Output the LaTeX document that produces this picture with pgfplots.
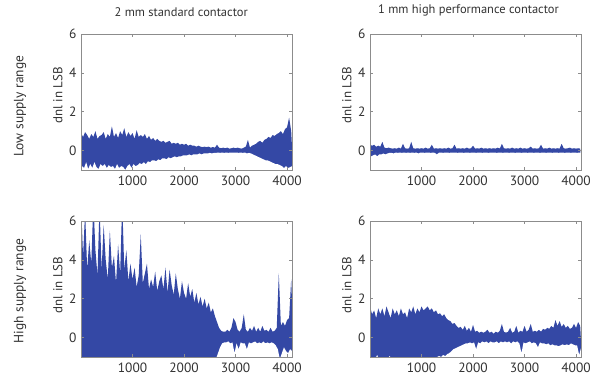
\documentclass[border=0pt]{standalone}
\usepackage{pgfplots}
\pgfplotsset{compat=1.18}
\usepackage{pgfplotstable}
\usepackage{fontspec}
\setmainfont{PT Sans}
\definecolor{dnlblue}{RGB}{52,72,165}
\definecolor{axgray}{RGB}{140,140,140}
\definecolor{txtgray}{RGB}{50,50,50}

% each row: peak value (code 40*i) and trough value (code 40*i+20)
\pgfplotstableread[header=false,row sep=\\]{
0.9 -0.8\\ 0.7 -0.9\\ 0.95 -0.6\\ 0.8 -0.95\\ 0.6 -0.7\\
0.85 -0.9\\ 0.7 -0.6\\ 1.0 -0.85\\ 0.6 -0.95\\ 0.75 -0.7\\
0.8 -0.8\\ 0.95 -0.7\\ 0.6 -0.9\\ 0.85 -0.75\\ 0.7 -0.85\\
1.25 -0.8\\ 0.7 -0.95\\ 0.9 -0.7\\ 0.65 -0.9\\ 1.0 -0.8\\
0.8 -0.85\\ 1.15 -1.0\\ 0.7 -0.8\\ 0.95 -0.7\\ 0.75 -0.9\\
0.9 -0.7\\ 0.6 -0.8\\ 1.05 -0.75\\ 0.7 -0.65\\ 0.8 -0.7\\
0.7 -0.6\\ 0.85 -0.7\\ 0.6 -0.55\\ 0.75 -0.6\\ 0.55 -0.5\\
0.65 -0.5\\ 0.5 -0.55\\ 0.6 -0.45\\ 0.5 -0.5\\ 0.45 -0.4\\
0.5 -0.4\\ 0.4 -0.45\\ 0.45 -0.35\\ 0.5 -0.4\\ 0.35 -0.35\\
0.4 -0.3\\ 0.35 -0.35\\ 0.4 -0.3\\ 0.3 -0.3\\ 0.35 -0.25\\
0.3 -0.25\\ 0.35 -0.25\\ 0.25 -0.2\\ 0.3 -0.25\\ 0.25 -0.2\\
0.25 -0.2\\ 0.2 -0.2\\ 0.25 -0.15\\ 0.2 -0.2\\ 0.18 -0.15\\
0.2 -0.15\\ 0.18 -0.15\\ 0.2 -0.12\\ 0.15 -0.15\\ 0.18 -0.12\\
0.15 -0.12\\ 0.3 -0.1\\ 0.15 -0.12\\ 0.12 -0.1\\ 0.15 -0.12\\
0.12 -0.1\\ 0.15 -0.12\\ 0.1 -0.1\\ 0.12 -0.1\\ 0.15 -0.1\\
0.12 -0.1\\ 0.15 -0.12\\ 0.12 -0.1\\ 0.1 -0.12\\ 0.15 -0.1\\
0.2 -0.15\\ 0.55 -0.12\\ 0.15 -0.15\\ 0.25 -0.2\\ 0.3 -0.25\\
0.35 -0.3\\ 0.45 -0.35\\ 0.5 -0.4\\ 0.4 -0.45\\ 0.55 -0.5\\
0.6 -0.5\\ 0.7 -0.55\\ 0.65 -0.6\\ 0.8 -0.65\\ 0.75 -0.7\\
0.85 -0.7\\ 0.9 -0.75\\ 1.0 -0.8\\ 0.85 -0.9\\ 1.1 -0.8\\
1.2 -0.9\\ 1.7 -0.85\\ 1.0 -0.8\\
}\dataTL

\pgfplotstableread[header=false,row sep=\\]{
0.3 -0.3\\ 0.25 -0.25\\ 0.3 -0.2\\ 0.2 -0.3\\ 0.25 -0.2\\
0.2 -0.2\\ 0.45 -0.15\\ 0.15 -0.2\\ 0.12 -0.15\\ 0.15 -0.12\\
0.12 -0.12\\ 0.1 -0.15\\ 0.12 -0.1\\ 0.1 -0.12\\ 0.15 -0.1\\
0.1 -0.12\\ 0.35 -0.1\\ 0.12 -0.12\\ 0.1 -0.1\\ 0.12 -0.12\\
0.45 -0.1\\ 0.12 -0.12\\ 0.1 -0.1\\ 0.12 -0.15\\ 0.1 -0.1\\
0.12 -0.1\\ 0.1 -0.12\\ 0.15 -0.1\\ 0.1 -0.1\\ 0.12 -0.12\\
0.3 -0.1\\ 0.1 -0.12\\ 0.12 -0.2\\ 0.1 -0.1\\ 0.12 -0.1\\
0.1 -0.12\\ 0.12 -0.1\\ 0.1 -0.1\\ 0.15 -0.12\\ 0.1 -0.1\\
0.12 -0.1\\ 0.3 -0.1\\ 0.1 -0.12\\ 0.12 -0.1\\ 0.1 -0.1\\
0.12 -0.12\\ 0.1 -0.1\\ 0.15 -0.1\\ 0.1 -0.12\\ 0.12 -0.1\\
0.25 -0.1\\ 0.1 -0.12\\ 0.12 -0.1\\ 0.1 -0.1\\ 0.15 -0.12\\
0.1 -0.1\\ 0.12 -0.1\\ 0.1 -0.12\\ 0.12 -0.1\\ 0.1 -0.1\\
0.12 -0.1\\ 0.1 -0.12\\ 0.15 -0.1\\ 0.1 -0.1\\ 0.35 -0.12\\
0.12 -0.1\\ 0.1 -0.1\\ 0.12 -0.12\\ 0.1 -0.1\\ 0.15 -0.1\\
0.1 -0.12\\ 0.12 -0.1\\ 0.1 -0.1\\ 0.15 -0.12\\ 0.1 -0.1\\
0.12 -0.1\\ 0.1 -0.12\\ 0.12 -0.1\\ 0.2 -0.1\\ 0.1 -0.12\\
0.12 -0.1\\ 0.1 -0.1\\ 0.12 -0.12\\ 0.3 -0.1\\ 0.1 -0.1\\
0.12 -0.12\\ 0.1 -0.1\\ 0.15 -0.1\\ 0.1 -0.12\\ 0.12 -0.1\\
0.1 -0.1\\ 0.12 -0.12\\ 0.1 -0.1\\ 0.35 -0.1\\ 0.12 -0.12\\
0.1 -0.1\\ 0.12 -0.1\\ 0.15 -0.12\\ 0.1 -0.1\\ 0.12 -0.1\\
0.1 -0.12\\ 0.12 -0.1\\ 0.1 -0.1\\
}\dataTR

\pgfplotstableread[header=false,row sep=\\]{
7 -1.5\\ 4.2 -1.8\\ 6.5 -1.5\\ 3.5 -1.6\\ 5.0 -1.5\\
3.8 -1.7\\ 7 -1.5\\ 4.5 -1.6\\ 3.2 -1.5\\ 6.8 -1.8\\
3.5 -1.5\\ 5.8 -1.6\\ 4.0 -1.5\\ 3.0 -1.7\\ 5.5 -1.5\\
3.6 -1.6\\ 4.2 -1.5\\ 2.8 -1.5\\ 4.8 -1.7\\ 3.3 -1.5\\
7 -1.5\\ 3.5 -1.6\\ 4.5 -1.5\\ 2.9 -1.6\\ 3.8 -1.5\\
3.0 -1.7\\ 3.6 -1.5\\ 2.6 -1.5\\ 3.2 -1.6\\ 5.3 -1.5\\
2.8 -1.5\\ 3.3 -1.6\\ 3.8 -1.5\\ 2.5 -1.5\\ 3.0 -1.7\\
2.6 -1.5\\ 3.4 -1.5\\ 2.4 -1.6\\ 2.9 -1.5\\ 3.2 -1.5\\
2.5 -1.6\\ 3.6 -1.5\\ 2.3 -1.5\\ 3.5 -1.6\\ 2.7 -1.5\\
2.2 -1.5\\ 3.3 -1.6\\ 2.5 -1.5\\ 2.0 -1.5\\ 2.9 -1.6\\
2.3 -1.5\\ 2.0 -1.5\\ 2.8 -1.6\\ 2.1 -1.5\\ 2.5 -1.5\\
1.8 -1.6\\ 2.3 -1.5\\ 1.7 -1.5\\ 2.1 -1.6\\ 1.6 -1.5\\
2.0 -1.5\\ 1.5 -1.4\\ 1.8 -1.5\\ 1.3 -1.3\\ 1.5 -1.2\\
1.1 -1.1\\ 0.8 -0.8\\ 0.5 -0.5\\ 0.35 -0.3\\ 0.3 -0.25\\
0.3 -0.25\\ 0.4 -0.2\\ 0.3 -0.3\\ 0.5 -0.25\\ 1.0 -0.8\\
0.8 -0.3\\ 0.4 -0.6\\ 0.3 -0.25\\ 0.5 -0.3\\ 1.2 -0.3\\
0.4 -0.6\\ 0.3 -0.25\\ 0.5 -0.3\\ 0.35 -0.25\\ 0.6 -0.2\\
0.3 -0.3\\ 0.5 -0.25\\ 0.3 -0.3\\ 0.6 -0.2\\ 0.35 -0.3\\
0.4 -0.25\\ 0.3 -0.3\\ 0.5 -0.25\\ 0.3 -0.3\\ 0.35 -0.4\\
0.5 -0.6\\ 3.3 -1.1\\ 0.6 -0.8\\ 0.8 -0.5\\ 0.6 -0.7\\
0.9 -0.8\\ 1.0 -0.6\\ 3.0 -0.7\\
}\dataBL

\pgfplotstableread[header=false,row sep=\\]{
1.6 -1.2\\ 1.2 -1.0\\ 1.4 -1.1\\ 1.0 -0.9\\ 1.5 -1.2\\
1.2 -1.0\\ 1.5 -1.2\\ 1.1 -1.0\\ 1.6 -1.1\\ 1.3 -0.95\\
1.0 -1.1\\ 1.5 -1.0\\ 1.2 -1.2\\ 1.4 -1.0\\ 1.1 -1.1\\
1.5 -1.0\\ 1.2 -1.2\\ 1.3 -1.0\\ 1.0 -1.1\\ 1.5 -1.0\\
1.3 -1.2\\ 1.6 -1.0\\ 1.2 -1.1\\ 1.5 -1.0\\ 1.3 -1.2\\
1.6 -1.0\\ 1.4 -1.1\\ 1.5 -1.0\\ 1.6 -1.2\\ 1.4 -1.0\\
1.5 -1.1\\ 1.3 -1.0\\ 1.4 -1.0\\ 1.2 -0.95\\ 1.25 -1.0\\
1.1 -0.9\\ 1.2 -0.95\\ 1.0 -0.85\\ 0.9 -0.8\\ 0.85 -0.7\\
0.7 -0.6\\ 0.75 -0.55\\ 0.6 -0.5\\ 0.5 -0.45\\ 0.55 -0.4\\
0.4 -0.35\\ 0.6 -0.3\\ 0.35 -0.3\\ 0.5 -0.25\\ 0.3 -0.3\\
0.65 -0.25\\ 0.3 -0.6\\ 0.35 -0.25\\ 0.25 -0.3\\ 0.3 -0.2\\
0.25 -0.25\\ 0.3 -0.2\\ 0.4 -0.3\\ 0.25 -0.2\\ 0.3 -0.25\\
0.2 -0.25\\ 0.3 -0.2\\ 0.25 -0.3\\ 0.35 -0.2\\ 0.7 -0.25\\
0.3 -0.2\\ 0.25 -0.25\\ 0.3 -0.2\\ 0.5 -0.3\\ 0.25 -0.2\\
0.3 -0.25\\ 0.6 -0.2\\ 0.25 -0.3\\ 0.35 -0.8\\ 0.3 -0.25\\
0.6 -0.3\\ 0.3 -0.25\\ 0.4 -0.2\\ 0.7 -0.3\\ 0.3 -0.25\\
0.35 -0.3\\ 0.3 -0.5\\ 0.4 -0.25\\ 0.3 -0.3\\ 0.45 -0.3\\
0.4 -0.35\\ 0.5 -0.3\\ 0.45 -0.4\\ 0.6 -0.35\\ 0.5 -0.4\\
0.9 -0.4\\ 0.6 -0.45\\ 0.85 -0.4\\ 0.55 -0.35\\ 0.7 -0.4\\
0.5 -0.35\\ 0.6 -0.4\\ 0.45 -0.3\\ 0.5 -0.35\\ 0.7 -0.4\\
0.5 -0.4\\ 0.8 -0.9\\ 0.6 -0.5\\
}\dataBR

\pgfplotsset{
  dnlaxis/.style={
    width=211bp, height=136bp, scale only axis,
    xmin=0, xmax=4096, ymin=-1, ymax=6,
    xtick={1000,2000,3000,4000}, ytick={0,2,4,6},
    scaled x ticks=false,
    /pgf/number format/1000 sep={},
    /pgf/number format/assume math mode=true,
    tick align=inside, major tick length=3bp,
    axis line style={axgray, line width=0.6pt},
    tick style={axgray, line width=0.5pt},
    ticklabel style={font=\fontsize{13.5}{15}\selectfont, text=txtgray},
    title style={font=\fontsize{12.5}{14}\selectfont, text=txtgray},
    ylabel={dnl in LSB},
    every axis y label/.style={at={(axis description cs:-0.11,0.55)}, rotate=90, anchor=center,
      font=\fontsize{13}{15}\selectfont, text=txtgray},
    xticklabel style={yshift=-2bp},
    yticklabel style={xshift=-1bp},
    clip=true,
    axis on top,
  },
}
% blue area under the peaks, then white area under the troughs: leaves the band between them
\newcommand{\dnlband}[1]{%
  \addplot[fill=dnlblue, draw=none, forget plot] table[x expr=\coordindex*40, y index=0] {#1}
     -- (axis cs:4200,-5) -- (axis cs:-100,-5) -- cycle;
  \addplot[fill=white, draw=none, forget plot] table[x expr=\coordindex*40+20, y index=1] {#1}
     -- (axis cs:4200,-5) -- (axis cs:-100,-5) -- cycle;
}

\begin{document}
\begin{tikzpicture}
\path[use as bounding box] (0bp,0bp) rectangle (601bp,377bp);

\begin{axis}[dnlaxis, at={(81bp,207bp)}, anchor=south west,
  title={2 mm standard contactor},
  title style={at={(axis description cs:0.475,1)}, anchor=south, yshift=8bp}]
\dnlband{\dataTL}
\end{axis}
\node[rotate=90, font=\fontsize{13.5}{15}\selectfont, text=txtgray] at (20bp,271bp) {Low supply range};

\begin{axis}[dnlaxis, at={(370bp,207bp)}, anchor=south west,
  title={1 mm high performance contactor},
  title style={at={(axis description cs:0.467,1)}, anchor=south, yshift=8bp}]
\dnlband{\dataTR}
\end{axis}

\begin{axis}[dnlaxis, at={(81bp,20bp)}, anchor=south west,
  every axis y label/.style={at={(axis description cs:-0.11,0.53)}, rotate=90, anchor=center,
    font=\fontsize{13}{15}\selectfont, text=txtgray}]
\dnlband{\dataBL}
\end{axis}
\node[rotate=90, font=\fontsize{13.5}{15}\selectfont, text=txtgray] at (20bp,86bp) {High supply range};

\begin{axis}[dnlaxis, at={(370bp,20bp)}, anchor=south west,
  every axis y label/.style={at={(axis description cs:-0.11,0.53)}, rotate=90, anchor=center,
    font=\fontsize{13}{15}\selectfont, text=txtgray}]
\dnlband{\dataBR}
\end{axis}
\end{tikzpicture}
\end{document}
